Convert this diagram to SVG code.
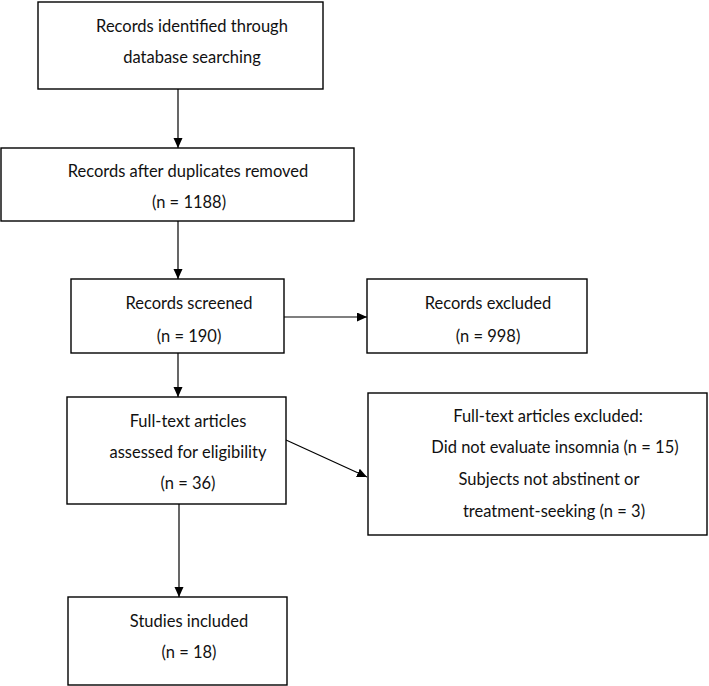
<svg xmlns="http://www.w3.org/2000/svg" width="709" height="686" viewBox="0 0 709 686">
<defs>
<style>
.box{fill:#fff;stroke:#000;stroke-width:1.4}
.t{font-family:Lato,"Liberation Sans",sans-serif;font-size:16.5px;fill:#111;text-anchor:middle}
.c{stroke:#000;stroke-width:1.2;fill:none}
</style>
<marker id="ah" markerUnits="userSpaceOnUse" markerWidth="11" markerHeight="10" refX="10" refY="4.5" orient="auto">
<path d="M0,0 L10,4.5 L0,9 z" fill="#000"/>
</marker>
</defs>
<rect width="709" height="686" fill="#fff"/>
<g id="connectors">
<line class="c" x1="178" y1="89" x2="178" y2="148" marker-end="url(#ah)"/>
<line class="c" x1="178" y1="221" x2="178" y2="279" marker-end="url(#ah)"/>
<line class="c" x1="284" y1="317" x2="367" y2="317" marker-end="url(#ah)"/>
<line class="c" x1="178" y1="353" x2="178" y2="397" marker-end="url(#ah)"/>
<line class="c" x1="286" y1="440" x2="367" y2="477" marker-end="url(#ah)"/>
<line class="c" x1="179" y1="504" x2="179" y2="597" marker-end="url(#ah)"/>
</g>
<g id="identified">
<rect class="box" x="38" y="2" width="285" height="87"/>
<text class="t" x="192" y="32">Records identified through</text>
<text class="t" x="192" y="63">database searching</text>
</g>
<g id="duplicates">
<rect class="box" x="1" y="148" width="353" height="73"/>
<text class="t" x="188" y="177">Records after duplicates removed</text>
<text class="t" x="189" y="208">(n = 1188)</text>
</g>
<g id="screened">
<rect class="box" x="71" y="279" width="213" height="74"/>
<text class="t" x="189" y="309">Records screened</text>
<text class="t" x="189" y="342">(n = 190)</text>
</g>
<g id="excluded">
<rect class="box" x="367" y="279" width="220" height="74"/>
<text class="t" x="488" y="309">Records excluded</text>
<text class="t" x="488" y="342">(n = 998)</text>
</g>
<g id="fulltext">
<rect class="box" x="67" y="397" width="219" height="107"/>
<text class="t" x="188" y="427">Full-text articles</text>
<text class="t" x="188" y="458">assessed for eligibility</text>
<text class="t" x="188" y="489">(n = 36)</text>
</g>
<g id="fulltext-excluded">
<rect class="box" x="368" y="393" width="339" height="142"/>
<text class="t" x="548" y="422">Full-text articles excluded:</text>
<text class="t" x="555" y="453">Did not evaluate insomnia (n = 15)</text>
<text class="t" x="549" y="485">Subjects not abstinent or</text>
<text class="t" x="554" y="517">treatment-seeking (n = 3)</text>
</g>
<g id="included">
<rect class="box" x="68" y="597" width="219" height="88"/>
<text class="t" x="189" y="627">Studies included</text>
<text class="t" x="189" y="658">(n = 18)</text>
</g>
</svg>
